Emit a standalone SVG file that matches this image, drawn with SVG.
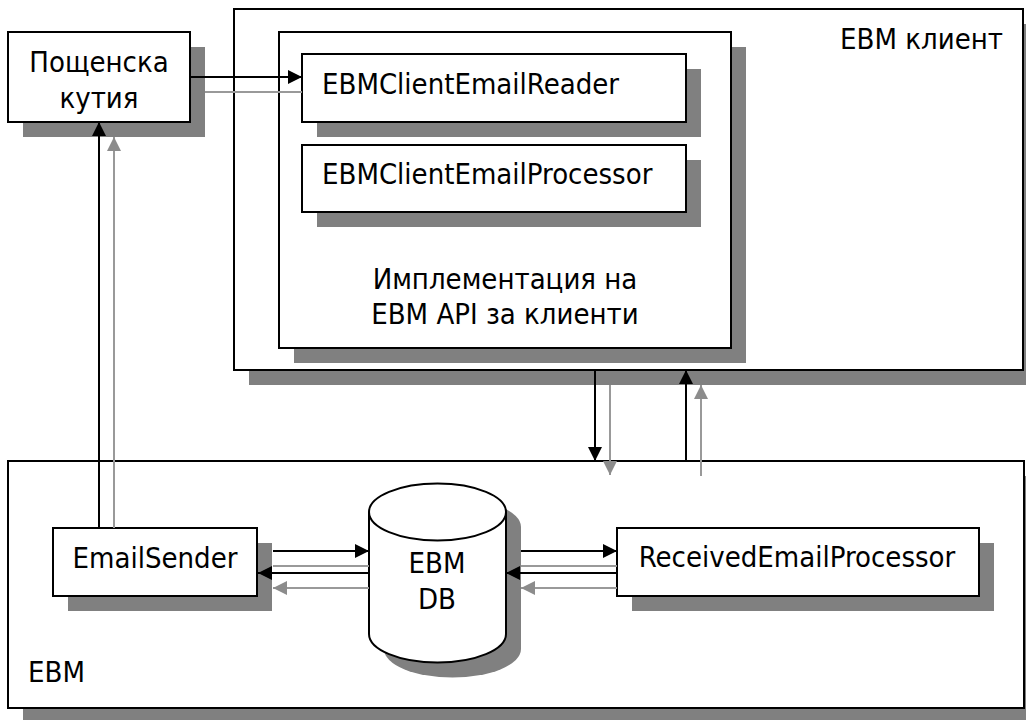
<svg xmlns="http://www.w3.org/2000/svg" width="1026" height="720" viewBox="0 0 1026 720">
  <style>
    .box { fill: #ffffff; stroke: #000000; stroke-width: 2; }
    .shadow { fill: #808080; stroke: none; }
    .lbl { font-family: "DejaVu Sans Condensed", "DejaVu Sans", sans-serif; font-stretch: condensed; font-size: 29px; fill: #000000; }
    .mid { text-anchor: middle; }
    .end { text-anchor: end; }
    .flow { stroke: #000000; stroke-width: 2; fill: none; }
    .flow-sh { stroke: #999999; stroke-width: 2; fill: none; }
  </style>
  <defs>
    <marker id="head" markerUnits="userSpaceOnUse" markerWidth="14" markerHeight="14" viewBox="0 0 14 14" refX="14" refY="7" orient="auto">
      <path d="M0,0 L14,7 L0,14 Z" fill="#000000"/>
    </marker>
    <marker id="head-sh" markerUnits="userSpaceOnUse" markerWidth="14" markerHeight="14" viewBox="0 0 14 14" refX="14" refY="7" orient="auto">
      <path d="M0,0 L14,7 L0,14 Z" fill="#8c8c8c"/>
    </marker>
  </defs>

  <rect width="1026" height="720" fill="#ffffff"/>

  <!-- client side container -->
  <g id="ebm-client">
    <rect class="shadow" x="249" y="24" width="789" height="361"/>
    <rect class="box" x="234" y="9" width="789" height="361"/>
    <text class="lbl end" x="1003" y="49">EBM клиент</text>
  </g>

  <!-- server side container -->
  <g id="ebm">
    <rect class="shadow" x="23" y="476" width="1016" height="247"/>
    <rect class="box" x="8" y="461" width="1016" height="247"/>
    <text class="lbl" x="28" y="682">EBM</text>
  </g>

  <g id="client-api">
    <rect class="shadow" x="294" y="47" width="452" height="316"/>
    <rect class="box" x="279" y="32" width="452" height="316"/>
    <text class="lbl mid" x="505" y="289">Имплементация на</text>
    <text class="lbl mid" x="505" y="324">EBM API за клиенти</text>
  </g>

  <g id="mailbox">
    <rect class="shadow" x="23" y="47" width="182" height="90"/>
    <rect class="box" x="8" y="32" width="182" height="90"/>
    <text class="lbl mid" x="99" y="72">Пощенска</text>
    <text class="lbl mid" x="99" y="108">кутия</text>
  </g>

  <g id="email-reader">
    <rect class="shadow" x="317" y="69" width="384" height="68"/>
    <rect class="box" x="302" y="54" width="384" height="68"/>
    <text class="lbl" x="322" y="94">EBMClientEmailReader</text>
  </g>

  <g id="email-processor">
    <rect class="shadow" x="317" y="160" width="384" height="67"/>
    <rect class="box" x="302" y="145" width="384" height="67"/>
    <text class="lbl" x="322" y="184">EBMClientEmailProcessor</text>
  </g>

  <g id="email-sender">
    <rect class="shadow" x="68" y="543" width="204" height="68"/>
    <rect class="box" x="53" y="528" width="204" height="68"/>
    <text class="lbl mid" x="155" y="568">EmailSender</text>
  </g>

  <g id="received-processor">
    <rect class="shadow" x="632" y="543" width="362" height="68"/>
    <rect class="box" x="617" y="528" width="362" height="68"/>
    <text class="lbl mid" x="797" y="567">ReceivedEmailProcessor</text>
  </g>

  <g id="ebm-db">
    <path class="shadow" d="M384,527 L384,649 A68.5,28.5 0 0 0 521,649 L521,527 A68.5,28.5 0 0 0 384,527 Z"/>
    <path class="box" d="M369,512 L369,634 A68.5,28.5 0 0 0 506,634 L506,512 A68.5,28.5 0 0 0 369,512 Z"/>
    <path class="box" d="M369,512 A68.5,28.5 0 0 0 506,512" fill="none"/>
    <text class="lbl mid" x="437" y="573">EBM</text>
    <text class="lbl mid" x="437" y="609">DB</text>
  </g>

  <!-- connectors with their drop shadows -->
  <g id="connectors">
    <!-- mailbox to reader -->
    <line class="flow-sh" x1="205" y1="92" x2="302" y2="92"/>
    <line class="flow" x1="190" y1="77" x2="302" y2="77" marker-end="url(#head)"/>
    <!-- sender up to mailbox -->
    <line class="flow-sh" x1="114" y1="528" x2="114" y2="137" marker-end="url(#head-sh)"/>
    <line class="flow" x1="99" y1="528" x2="99" y2="122" marker-end="url(#head)"/>
    <!-- client down to server -->
    <line class="flow-sh" x1="610" y1="385" x2="610" y2="475" marker-end="url(#head-sh)"/>
    <line class="flow" x1="595" y1="370" x2="595" y2="461" marker-end="url(#head)"/>
    <!-- server up to client -->
    <line class="flow-sh" x1="701" y1="476" x2="701" y2="385" marker-end="url(#head-sh)"/>
    <line class="flow" x1="686" y1="461" x2="686" y2="370" marker-end="url(#head)"/>
    <!-- sender and database -->
    <line class="flow-sh" x1="273" y1="566" x2="369" y2="566"/>
    <line class="flow" x1="273" y1="551" x2="369" y2="551" marker-end="url(#head)"/>
    <line class="flow-sh" x1="369" y1="588" x2="273" y2="588" marker-end="url(#head-sh)"/>
    <line class="flow" x1="369" y1="573" x2="258" y2="573" marker-end="url(#head)"/>
    <!-- database and received processor -->
    <line class="flow-sh" x1="521" y1="566" x2="617" y2="566"/>
    <line class="flow" x1="521" y1="551" x2="617" y2="551" marker-end="url(#head)"/>
    <line class="flow-sh" x1="617" y1="588" x2="521" y2="588" marker-end="url(#head-sh)"/>
    <line class="flow" x1="617" y1="573" x2="506" y2="573" marker-end="url(#head)"/>
  </g>
</svg>
